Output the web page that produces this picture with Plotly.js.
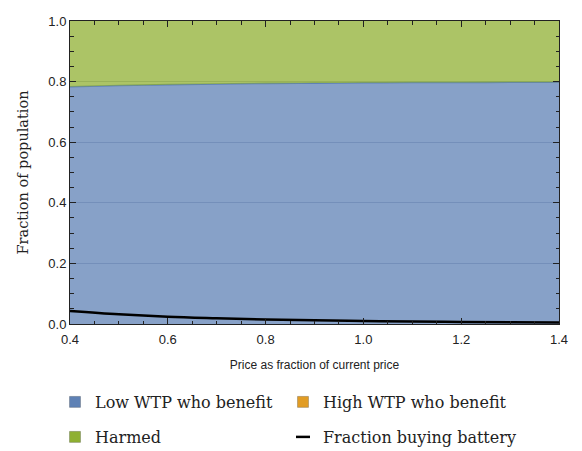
<!DOCTYPE html>
<html>
<head>
<meta charset="utf-8">
<script src="https://cdn.plot.ly/plotly-3.0.1.min.js"></script>
<style>
  html, body { margin: 0; padding: 0; background: #fff; }
  #chart { width: 582px; height: 451px; }
</style>
</head>
<body>
<div id="chart"></div>
<script>
// price as fraction of current price
const price = [0.4, 0.5, 0.6, 0.7, 0.8, 0.9, 1.0, 1.1, 1.2, 1.3, 1.4];
// shares of the population
const lowWtpBenefit = [0.783, 0.787, 0.790, 0.792, 0.794, 0.795, 0.796, 0.797, 0.797, 0.798, 0.798];
const highWtpBenefit = [0, 0, 0, 0, 0, 0, 0, 0, 0, 0, 0];
const fractionBuying = [0.043, 0.032, 0.024, 0.019, 0.015, 0.012, 0.010, 0.008, 0.007, 0.006, 0.005];
const harmed = price.map((p, i) => 1 - lowWtpBenefit[i] - highWtpBenefit[i]);

const serif = '"DejaVu Serif", "Liberation Serif", serif';
const sans = '"Liberation Sans", Arial, sans-serif';

const blue = '#5e81b5';
const orange = '#e19c24';
const green = '#8fb032';
const fillAlpha = 0.745;

function fade(hex) {
    const n = parseInt(hex.slice(1), 16);
    return `rgba(${n >> 16},${(n >> 8) & 255},${n & 255},${fillAlpha})`;
}

const areaTraces = [
    {
        x: price, y: lowWtpBenefit, name: 'Low WTP who benefit',
        mode: 'lines', stackgroup: 'pop', line: { color: blue, width: 1.6, shape: 'spline' },
        fillcolor: fade(blue), showlegend: false,
    },
    {
        x: price, y: highWtpBenefit, name: 'High WTP who benefit',
        mode: 'lines', stackgroup: 'pop', line: { color: orange, width: 0, shape: 'spline' },
        fillcolor: fade(orange), showlegend: false,
    },
    {
        x: price, y: harmed, name: 'Harmed',
        mode: 'lines', stackgroup: 'pop', line: { color: green, width: 0, shape: 'spline' },
        fillcolor: fade(green), showlegend: false,
    },
    {
        x: price, y: fractionBuying, name: 'Fraction buying battery',
        mode: 'lines', line: { color: '#000', width: 2.5, shape: 'spline' },
        showlegend: false,
    },
];

// small square / dash swatches for the legend, like the original
function swatch(name, color, legend, symbol) {
    const isLine = symbol === 'line-ew';
    return {
        x: [null], y: [null], name: name, mode: 'markers', legend: legend,
        marker: {
            symbol: symbol, size: isLine ? 10 : 11, color: color,
            line: { color: isLine ? '#000' : 'rgba(0,0,0,0.35)', width: isLine ? 2.5 : 0.6 },
        },
    };
}

const legendTraces = [
    swatch('Low WTP who benefit', blue, 'legend', 'square'),
    swatch('High WTP who benefit', orange, 'legend2', 'square'),
    swatch('Harmed', green, 'legend3', 'square'),
    swatch('Fraction buying battery', '#000', 'legend4', 'line-ew'),
];

const axisCommon = {
    showline: true, linecolor: '#222', linewidth: 1, mirror: 'ticks',
    ticks: 'inside', ticklen: 6, tickwidth: 1, tickcolor: '#222',
    tickfont: { family: sans, size: 13, color: '#222' },
    zeroline: false, layer: 'above traces', automargin: false,
};

// one legend box per entry, laid out as a 2x2 grid in pixels
const legendCols = [55, 283];
const legendRows = [402, 437];
function legendAt(col, row) {
    return {
        xref: 'container', yref: 'container', xanchor: 'left', yanchor: 'middle',
        x: legendCols[col] / 582, y: 1 - legendRows[row] / 451,
        font: { family: serif, size: 16, color: '#222' }, bgcolor: 'rgba(0,0,0,0)',
    };
}

const layout = {
    width: 582, height: 451,
    margin: { l: 70, r: 23, t: 21, b: 127, autoexpand: false },
    paper_bgcolor: '#fff', plot_bgcolor: '#fff',
    showlegend: true,
    xaxis: Object.assign({}, axisCommon, {
        range: [0.4, 1.4], dtick: 0.2, tickformat: '.1f', showgrid: false,
        ticklabelstandoff: 3,
        minor: { dtick: 0.05, ticks: 'inside', ticklen: 3.5, tickcolor: '#222', showgrid: false },
        title: { text: 'Price as fraction of current price', font: { family: sans, size: 12, color: '#222' }, standoff: 15 },
    }),
    yaxis: Object.assign({}, axisCommon, {
        range: [0, 1], dtick: 0.2, tickformat: '.1f',
        showgrid: true, gridcolor: '#b4bac8', gridwidth: 1,
        minor: { dtick: 0.05, ticks: 'inside', ticklen: 3.5, tickcolor: '#222', showgrid: false },
    }),
    // y title as a rotated annotation (the axis title gets misplaced with several legends)
    annotations: [{
        text: 'Fraction of population', textangle: -90,
        xref: 'paper', yref: 'paper', x: -48 / 489, y: 0.5,
        xanchor: 'center', yanchor: 'middle', showarrow: false,
        font: { family: serif, size: 14.5, color: '#222' },
    }],
    legend: legendAt(0, 0),
    legend2: legendAt(1, 0),
    legend3: legendAt(0, 1),
    legend4: legendAt(1, 1),
};

Plotly.newPlot('chart', areaTraces.concat(legendTraces), layout, { displayModeBar: false, staticPlot: true });
</script>
</body>
</html>
